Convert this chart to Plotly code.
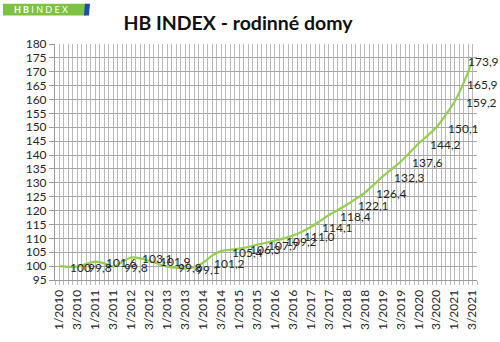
import plotly.graph_objects as go

# ---------------- data ----------------
years = list(range(2010, 2022))
quarters = [f"{q}/{y}" for y in years for q in (1, 2, 3, 4)][:47]  # 1/2010 .. 3/2021

index_values = [
    100.0, 99.7, 99.8, 100.8,     # 2010
    101.6, 101.0, 99.8, 101.5,    # 2011
    103.1, 102.8, 101.9, 100.8,   # 2012
    99.8, 99.4, 99.1, 99.6,       # 2013
    101.2, 103.8, 105.4, 105.9,   # 2014
    106.3, 106.9, 107.7, 108.4,   # 2015
    109.2, 110.0, 111.0, 112.4,   # 2016
    114.1, 116.2, 118.4, 120.2,   # 2017
    122.1, 124.2, 126.4, 129.3,   # 2018
    132.3, 134.9, 137.6, 140.8,   # 2019
    144.2, 147.0, 150.1, 154.4,   # 2020
    159.2, 165.9, 173.9,          # 2021
]

# quarters that carry a data label in the original
labelled_quarters = [q for q in quarters if q.startswith(("1/", "3/"))] + ["2/2021"]

tick_labels = [q for q in quarters if q.startswith(("1/", "3/"))]

y_ticks = list(range(95, 181, 5))

# ---------------- styling ----------------
FONT = "Lato"
TXT = "#262626"
GREEN = "#92D050"
GRID_H = "#a9a9a9"
GRID_V = "#bababa"
LABEL_SHIFT = 9
LABEL_SHIFT_OVERRIDE = {"2/2021": 1, "3/2021": -7}

pos = {q: i for i, q in enumerate(quarters)}
x_idx = [pos[q] for q in quarters]

fig = go.Figure()
fig.add_trace(go.Scatter(
    x=x_idx, y=index_values, mode="lines",
    line=dict(color=GREEN, width=2.2, shape="spline", smoothing=0.8),
    hoverinfo="skip", showlegend=False,
))

annotations = []
for q in labelled_quarters:
    i = pos[q]
    v = index_values[i]
    annotations.append(dict(
        x=i, y=v, xref="x", yref="y",
        text=f"{v:.1f}".replace(".", ",") if v != 100 else "100",
        showarrow=False, xanchor="left", yanchor="middle",
        xshift=LABEL_SHIFT_OVERRIDE.get(q, LABEL_SHIFT), yshift=-1,
        font=dict(family=FONT, size=12, color=TXT),
    ))

# logo text
annotations.append(dict(
    x=-0.034, y=1.1455, xref="paper", yref="paper", showarrow=False,
    text="<b>H B</b> I N D E X", xanchor="center", yanchor="middle",
    font=dict(family=FONT, size=9, color="white"),
))

fig.update_layout(
    width=500, height=342,
    margin=dict(l=55, r=23, t=44, b=58),
    paper_bgcolor="white", plot_bgcolor="white",
    title=dict(
        text="<b>HB INDEX - rodinné domy</b>",
        font=dict(family=FONT, size=19.5, color="#111111"),
        x=0.476, xanchor="center", y=0.933, yanchor="middle",
    ),
    annotations=annotations,
    shapes=[
        dict(type="rect", xref="paper", yref="paper",
             x0=-0.1232, x1=0.0735, y0=1.1208, y1=1.1708,
             fillcolor="#7dc242", line=dict(width=0), layer="above"),
        dict(type="path", xref="paper", yref="paper",
             path="M 0.0686 1.1208 L 0.0805 1.1208 L 0.0829 1.1708 L 0.0710 1.1708 Z",
             fillcolor="#1f4fa0", line=dict(width=0), layer="above"),
    ],
    xaxis=dict(
        range=[-0.5, len(quarters) - 0.5],
        tickmode="array",
        tickvals=[pos[q] for q in tick_labels], ticktext=tick_labels,
        tickangle=-90,
        tickfont=dict(family=FONT, size=12, color=TXT),
        showgrid=True, gridcolor=GRID_V, gridwidth=1,
        ticks="outside", ticklen=4, tickcolor=GRID_V,
        minor=dict(tickmode="linear", tick0=-0.5, dtick=0.5,
                   showgrid=True, gridcolor=GRID_V, gridwidth=1,
                   ticks="outside", ticklen=4, tickcolor=GRID_V),
        showline=True, linecolor="#9a9a9a", linewidth=1,
        zeroline=False, fixedrange=True,
    ),
    yaxis=dict(
        range=[95, 180],
        tickmode="array", tickvals=y_ticks,
        tickfont=dict(family=FONT, size=12, color=TXT),
        showgrid=True, gridcolor=GRID_H, gridwidth=1,
        ticks="outside", ticklen=5, tickcolor="#9a9a9a",
        showline=True, linecolor="#9a9a9a", linewidth=1,
        zeroline=False, fixedrange=True,
    ),
)

fig.write_html("out.html")
